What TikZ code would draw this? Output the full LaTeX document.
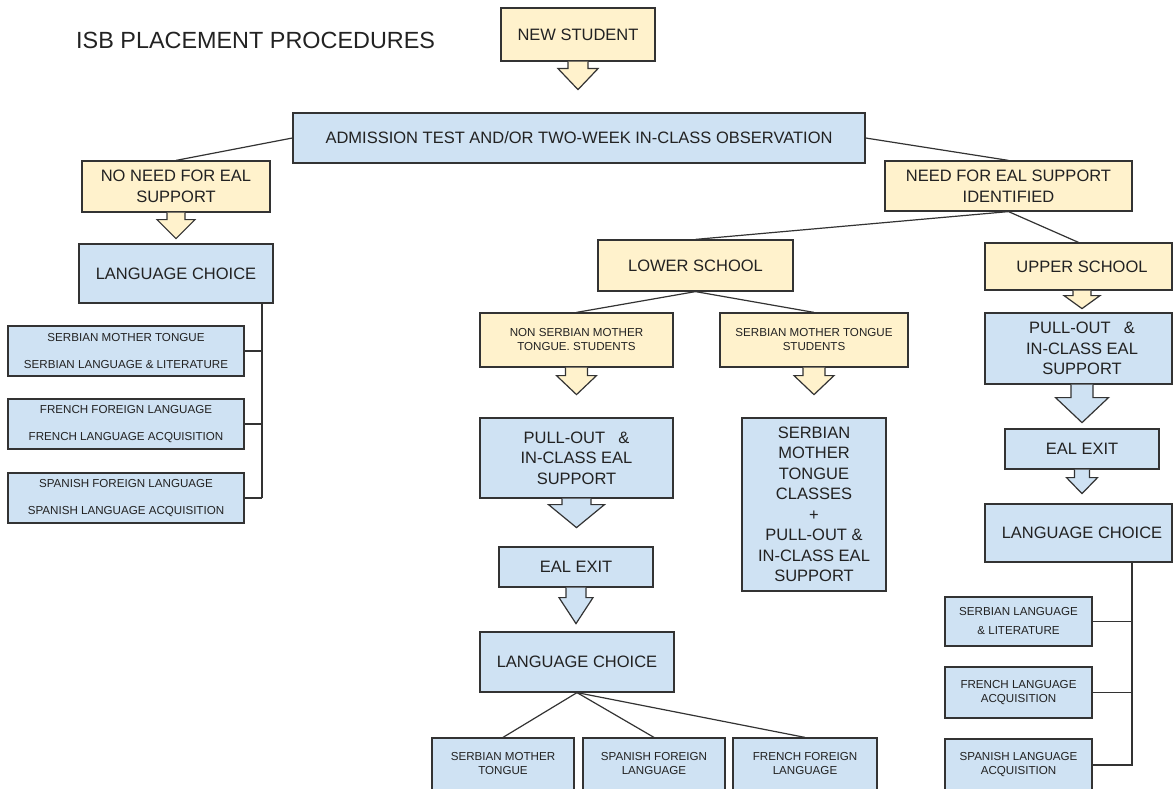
\documentclass[tikz,border=0pt]{standalone}
\usepackage{fontspec}
\setmainfont{Liberation Sans}
\usetikzlibrary{calc}
\definecolor{ylw}{HTML}{FFF2CC}
\definecolor{blu}{HTML}{CFE2F3}
\definecolor{edgec}{HTML}{333333}
\definecolor{ink}{HTML}{222222}
\tikzset{
  box/.style={draw=edgec, line width=1.2pt, inner sep=0pt, align=center, text=ink,
              font=\fontsize{16.5}{20.5}\selectfont},
  ybox/.style={box, fill=ylw},
  bbox/.style={box, fill=blu},
  small/.style={font=\fontsize{11.6}{14}\selectfont},
  conn/.style={draw=edgec, line width=1.2pt},
}
% #1 xshift, #2 node, #3 shaft width, #4 shaft length, #5 head width, #6 head length, #7 fill
\newcommand{\blockarrow}[7][0]{%
  \fill[#7] ([xshift=#1pt]#2.south) ++({-#3/2},0) -- ++(0,#4) -- ++({-(#5-#3)/2},0)
     -- ++({#5/2},#6) -- ++({#5/2},{-#6}) -- ++({-(#5-#3)/2},0) -- ++(0,{-#4}) -- cycle;
  \draw[conn, line join=miter] ([xshift=#1pt]#2.south) ++({-#3/2},0) -- ++(0,#4) -- ++({-(#5-#3)/2},0)
     -- ++({#5/2},#6) -- ++({#5/2},{-#6}) -- ++({-(#5-#3)/2},0) -- ++(0,{-#4});
}
\begin{document}
\begin{tikzpicture}[x=1pt, y=-1pt]
\useasboundingbox[fill=white] (0,0) rectangle (1173,789);

% title
\node[anchor=base west, inner sep=0pt, text=ink, font=\fontsize{23.4}{28}\selectfont] (title) at (76,49) {ISB PLACEMENT PROCEDURES};

% top
\node[ybox, minimum width=154pt, minimum height=53pt] (new) at (578,34.5) {NEW STUDENT};
\node[bbox, minimum width=572pt, minimum height=50pt] (adm) at (579,138) {ADMISSION TEST AND/OR TWO-WEEK IN-CLASS OBSERVATION};
\node[ybox, minimum width=188pt, minimum height=51pt] (nono) at (176,186.5) {NO NEED FOR EAL\\SUPPORT};
\node[ybox, minimum width=247pt, minimum height=50pt] (need) at (1008.5,186) {NEED FOR EAL SUPPORT\\IDENTIFIED};

% left branch
\node[bbox, minimum width=194pt, minimum height=59pt] (lcL) at (176,273.5) {LANGUAGE CHOICE};
\node[bbox, small, minimum width=236pt, minimum height=50pt] (L1) at (126,351) {SERBIAN MOTHER TONGUE\\[13pt]SERBIAN LANGUAGE \& LITERATURE};
\node[bbox, small, minimum width=236pt, minimum height=50pt] (L2) at (126,424) {FRENCH FOREIGN LANGUAGE\\[13pt]FRENCH LANGUAGE ACQUISITION};
\node[bbox, small, minimum width=236pt, minimum height=50pt] (L3) at (126,498) {SPANISH FOREIGN LANGUAGE\\[13pt]SPANISH LANGUAGE ACQUISITION};

% lower school
\node[ybox, minimum width=195pt, minimum height=51pt] (lower) at (695.5,265.5) {LOWER SCHOOL};
\node[ybox, small, minimum width=193pt, minimum height=54pt] (nons) at (576.5,340) {NON SERBIAN MOTHER\\TONGUE. STUDENTS};
\node[ybox, small, minimum width=188pt, minimum height=54pt] (sers) at (814,340) {SERBIAN MOTHER TONGUE\\STUDENTS};
\node[bbox, minimum width=193pt, minimum height=80pt] (pullM) at (576.5,458) {PULL-OUT\hspace{0.8em}\&\\IN-CLASS EAL\\SUPPORT};
\node[bbox, minimum width=144pt, minimum height=173pt] (sclass) at (814,504.5) {SERBIAN\\MOTHER\\TONGUE\\CLASSES\\+\\PULL-OUT \&\\IN-CLASS EAL\\SUPPORT};
\node[bbox, minimum width=154pt, minimum height=40pt] (exitM) at (576,567) {EAL EXIT};
\node[bbox, minimum width=194pt, minimum height=60pt] (lcM) at (577,662) {LANGUAGE CHOICE};
\node[bbox, small, minimum width=142pt, minimum height=52pt] (B1) at (503,764) {SERBIAN MOTHER\\TONGUE};
\node[bbox, small, minimum width=142pt, minimum height=52pt] (B2) at (654,764) {SPANISH FOREIGN\\LANGUAGE};
\node[bbox, small, minimum width=144pt, minimum height=52pt] (B3) at (805,764) {FRENCH FOREIGN\\LANGUAGE};

% upper school
\node[ybox, minimum width=187pt, minimum height=47pt] (upper) at (1078.5,266.5) {\hspace{7pt}UPPER SCHOOL};
\node[bbox, minimum width=187pt, minimum height=71pt] (pullR) at (1078.5,348.5) {\hspace{7pt}PULL-OUT\hspace{0.8em}\&\\\hspace{7pt}IN-CLASS EAL\\\hspace{7pt}SUPPORT};
\node[bbox, minimum width=154pt, minimum height=40pt] (exitR) at (1082,449) {EAL EXIT};
\node[bbox, minimum width=187pt, minimum height=58pt] (lcR) at (1078.5,533) {\hspace{7pt}LANGUAGE CHOICE};
\node[bbox, small, minimum width=147pt, minimum height=49pt] (R1) at (1018.5,621.5) {SERBIAN LANGUAGE\\[5pt]\& LITERATURE};
\node[bbox, small, minimum width=147pt, minimum height=51pt] (R2) at (1018.5,692.5) {FRENCH LANGUAGE\\ACQUISITION};
\node[bbox, small, minimum width=147pt, minimum height=52pt] (R3) at (1018.5,765) {SPANISH LANGUAGE\\ACQUISITION};

% connectors
\draw[conn] (adm.west) -- (nono.north);
\draw[conn] (adm.east) -- (need.north);
\draw[conn] (need.south) -- (lower.north);
\draw[conn] (need.south) -- (upper.north);
\draw[conn] (lower.south) -- (nons.north);
\draw[conn] (lower.south) -- (sers.north);
\draw[conn] (lcM.south) -- (B1.north);
\draw[conn] (lcM.south) -- (B2.north);
\draw[conn] (lcM.south) -- (B3.north);

% left tree
\coordinate (lt) at (262,303);
\coordinate (lb) at (262,498);
\draw[conn] (lt) -- (lb);
\draw[conn] (L1.east) -- (L1.east -| lt);
\draw[conn] (L2.east) -- (L2.east -| lt);
\draw[conn] (L3.east) -- (lb);

% right tree
\coordinate (rt) at (1132,562);
\coordinate (rb) at (1132,766);
\draw[conn] (rt) -- (rb);
\draw[conn] (R1.east) -- (R1.east -| rt);
\draw[conn] (R2.east) -- (R2.east -| rt);
\draw[conn] (R3.east) -- (R3.east -| rt);

% block arrows
\blockarrow{new}{20}{7}{40}{21}{ylw}
\blockarrow{nono}{18}{7}{38}{19}{ylw}
\blockarrow[3.5]{upper}{18}{5}{36}{13}{ylw}
\blockarrow{nons}{22}{8}{40}{19}{ylw}
\blockarrow{sers}{22}{8}{40}{19}{ylw}
\blockarrow{pullM}{29}{6}{56}{23}{blu}
\blockarrow{exitM}{20}{10}{34}{26}{blu}
\blockarrow[3.5]{pullR}{22}{13}{53}{25}{blu}
\blockarrow{exitR}{15}{8}{31}{16}{blu}
\end{tikzpicture}
\end{document}
